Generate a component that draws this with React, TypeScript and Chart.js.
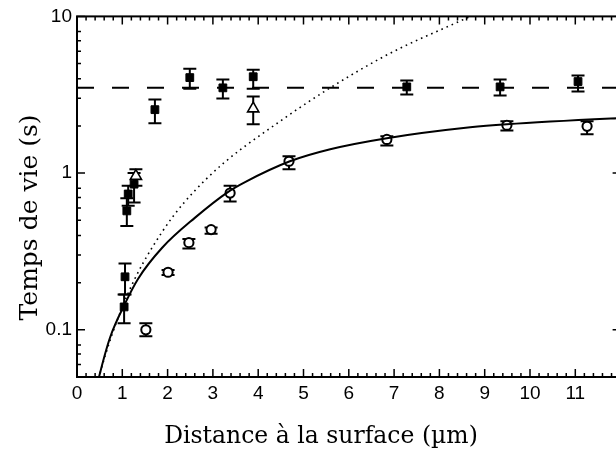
import React, { useEffect, useRef } from "react";
import { Chart, registerables } from "chart.js";

Chart.register(...registerables);

// ---- data ----
const squaresX = [1.04, 1.06, 1.1, 1.13, 1.26, 1.72, 2.49, 3.22, 3.89, 7.28, 9.34, 11.06];
const squaresY = [0.14, 0.218, 0.574, 0.736, 0.85, 2.54, 4.07, 3.5, 4.12, 3.55, 3.55, 3.84];
const squaresLow = [0.11, 0.168, 0.46, 0.62, 0.65, 2.08, 3.46, 2.99, 3.46, 3.17, 3.13, 3.32];
const squaresHigh = [0.168, 0.265, 0.69, 0.83, 1.0, 2.95, 4.64, 3.95, 4.57, 3.9, 3.95, 4.19];

const trianglesX = [1.3, 3.89];
const trianglesY = [0.956, 2.58];
const trianglesLow = [0.83, 2.05];
const trianglesHigh = [1.06, 3.08];

const circlesX = [1.52, 2.01, 2.47, 2.96, 3.38, 4.68, 6.84, 9.49, 11.26];
const circlesY = [0.1, 0.233, 0.36, 0.436, 0.746, 1.19, 1.64, 2.02, 1.99];
const circlesLow = [0.091, 0.224, 0.33, 0.41, 0.66, 1.06, 1.5, 1.87, 1.77];
const circlesHigh = [0.11, 0.241, 0.38, 0.45, 0.83, 1.28, 1.72, 2.14, 2.14];

const fitX = [0.45, 0.486, 0.728, 1.06, 1.35, 1.88, 2.6, 3.33, 3.71, 4.7, 5.59, 6.84, 8.68, 9.49, 11.92, 12];
const fitY = [0.045, 0.05, 0.089, 0.147, 0.212, 0.334, 0.518, 0.757, 0.877, 1.19, 1.42, 1.67, 1.96, 2.05, 2.24, 2.245];

const modelX = [0.45, 0.486, 1.06, 1.88, 2.83, 4.48, 6.69, 8.68];
const modelY = [0.045, 0.05, 0.154, 0.422, 0.903, 2.14, 5.38, 10.0];

const plateauX = [0, 12];
const plateauY = [3.5, 3.5];

const xTickValues = [0, 1, 2, 3, 4, 5, 6, 7, 8, 9, 10, 11];
const yTickValues = [0.1, 1, 10];
const yTickLabels = ["0.1", "1", "10"];

const xTitle = "Distance à la surface (µm)";
const yTitle = "Temps de vie (s)";

const pts = (xs: number[], ys: number[], lo?: number[], hi?: number[]) =>
  xs.map((x, i) => ({ x, y: ys[i], yMin: lo ? lo[i] : undefined, yMax: hi ? hi[i] : undefined }));

const errorBarPlugin = {
  id: "errorBars",
  beforeDatasetsDraw(chart: any) {
    const ctx = chart.ctx;
    const xs = chart.scales.x;
    const ys = chart.scales.y;
    ctx.save();
    ctx.strokeStyle = "#000";
    ctx.lineWidth = 2;
    chart.data.datasets.forEach((ds: any) => {
      if (!ds.errorBars) return;
      ds.data.forEach((p: any) => {
        if (p.yMin === undefined) return;
        const px = xs.getPixelForValue(p.x);
        const y1 = ys.getPixelForValue(p.yMin);
        const y2 = ys.getPixelForValue(p.yMax);
        const cap = 6.5;
        ctx.beginPath();
        ctx.moveTo(px, y1);
        ctx.lineTo(px, y2);
        ctx.moveTo(px - cap, y1);
        ctx.lineTo(px + cap, y1);
        ctx.moveTo(px - cap, y2);
        ctx.lineTo(px + cap, y2);
        ctx.stroke();
      });
    });
    ctx.restore();
  },
};

const framePlugin = {
  id: "frame",
  afterDraw(chart: any) {
    const ctx = chart.ctx;
    const { left, right, top, bottom } = chart.chartArea;
    const xs = chart.scales.x;
    const ys = chart.scales.y;
    ctx.save();
    ctx.strokeStyle = "#000";
    ctx.lineWidth = 2;
    ctx.strokeRect(left, top, right - left, bottom - top);
    ctx.lineWidth = 1.5;
    ctx.beginPath();
    for (let i = 0; i <= 60; i++) {
      const v = i / 5;
      const px = xs.getPixelForValue(v);
      const len = i % 5 === 0 ? 8 : 4;
      ctx.moveTo(px, bottom);
      ctx.lineTo(px, bottom - len);
      ctx.moveTo(px, top);
      ctx.lineTo(px, top + len);
    }
    const decades = [0.01, 0.1, 1];
    decades.forEach((d) => {
      for (let m = 1; m <= 8; m++) {
        const v = d * m;
        if (v < ys.min - 1e-9 || v > ys.max + 1e-9) continue;
        const py = ys.getPixelForValue(v);
        const len = m === 1 ? 8 : 4;
        ctx.moveTo(left, py);
        ctx.lineTo(left + len, py);
        ctx.moveTo(right, py);
        ctx.lineTo(right - len, py);
      }
    });
    const py10 = ys.getPixelForValue(10);
    ctx.moveTo(left, py10);
    ctx.lineTo(left + 8, py10);
    ctx.stroke();

    ctx.fillStyle = "#000";
    ctx.textAlign = "center";
    ctx.textBaseline = "middle";
    ctx.font = "23.5px 'DejaVu Serif'";
    ctx.fillText(xTitle, left + 244, bottom + 60);
    ctx.font = "25px 'DejaVu Serif'";
    ctx.translate(30, top + 201);
    ctx.rotate(-Math.PI / 2);
    ctx.fillText(yTitle, 0, 0);
    ctx.restore();
  },
};

export default function App() {
  const canvasRef = useRef<HTMLCanvasElement | null>(null);

  useEffect(() => {
    document.body.style.margin = "0";
    const canvas = canvasRef.current;
    if (!canvas) return;
    const chart = new Chart(canvas, {
      type: "scatter",
      data: {
        datasets: [
          {
            label: "fit",
            data: pts(fitX, fitY),
            showLine: true,
            borderColor: "#000",
            borderWidth: 2,
            pointRadius: 0,
            cubicInterpolationMode: "monotone",
          } as any,
          {
            label: "model",
            data: pts(modelX, modelY),
            showLine: true,
            borderColor: "#000",
            borderWidth: 1.6,
            borderDash: [1.6, 4],
            pointRadius: 0,
            cubicInterpolationMode: "monotone",
          } as any,
          {
            label: "plateau",
            data: pts(plateauX, plateauY),
            showLine: true,
            borderColor: "#000",
            borderWidth: 2,
            borderDash: [17, 18],
            pointRadius: 0,
          } as any,
          {
            label: "squares",
            data: pts(squaresX, squaresY, squaresLow, squaresHigh),
            errorBars: true,
            pointStyle: "rect",
            pointRadius: 5.5,
            backgroundColor: "#000",
            borderColor: "#000",
            borderWidth: 1,
          } as any,
          {
            label: "triangles",
            data: pts(trianglesX, trianglesY, trianglesLow, trianglesHigh),
            errorBars: true,
            pointStyle: "triangle",
            pointRadius: 6.5,
            backgroundColor: "#fff",
            borderColor: "#000",
            borderWidth: 1.6,
          } as any,
          {
            label: "circles",
            data: pts(circlesX, circlesY, circlesLow, circlesHigh),
            errorBars: true,
            pointStyle: "circle",
            pointRadius: 4.6,
            backgroundColor: "#fff",
            borderColor: "#000",
            borderWidth: 2,
          } as any,
        ],
      },
      options: {
        animation: false,
        responsive: true,
        maintainAspectRatio: false,
        layout: { padding: { top: 15, right: 9.4, left: 0, bottom: 0 } },
        plugins: { legend: { display: false }, tooltip: { enabled: false } },
        scales: {
          x: {
            type: "linear",
            min: 0,
            max: 12,
            grid: { display: false, drawTicks: false },
            border: { display: false },
            afterFit: (s: any) => {
              s.height = 74;
            },
            afterBuildTicks: (s: any) => {
              s.ticks = xTickValues.map((v) => ({ value: v }));
            },
            ticks: {
              padding: 5,
              color: "#000",
              font: { family: "'Liberation Sans'", size: 19 },
              maxRotation: 0,
              autoSkip: false,
              callback: (v: any) => String(v),
            },
          },
          y: {
            type: "logarithmic",
            min: 0.05,
            max: 10,
            grid: { display: false, drawTicks: false },
            border: { display: false },
            afterFit: (s: any) => {
              s.width = 77;
            },
            afterBuildTicks: (s: any) => {
              s.ticks = yTickValues.map((v) => ({ value: v }));
            },
            ticks: {
              padding: 5,
              color: "#000",
              font: { family: "'Liberation Sans'", size: 19 },
              autoSkip: false,
              callback: (v: any) => {
                const i = yTickValues.findIndex((t) => Math.abs(t - Number(v)) < 1e-9);
                return i >= 0 ? yTickLabels[i] : "";
              },
            },
          },
        },
      } as any,
      plugins: [errorBarPlugin, framePlugin],
    });
    return () => chart.destroy();
  }, []);

  return (
    <div style={{ position: "absolute", left: 0, top: 0, width: 616, height: 451, overflow: "hidden", background: "#fff" }}>
      <div style={{ width: 630, height: 451, position: "relative" }}>
        <canvas ref={canvasRef} />
      </div>
    </div>
  );
}
